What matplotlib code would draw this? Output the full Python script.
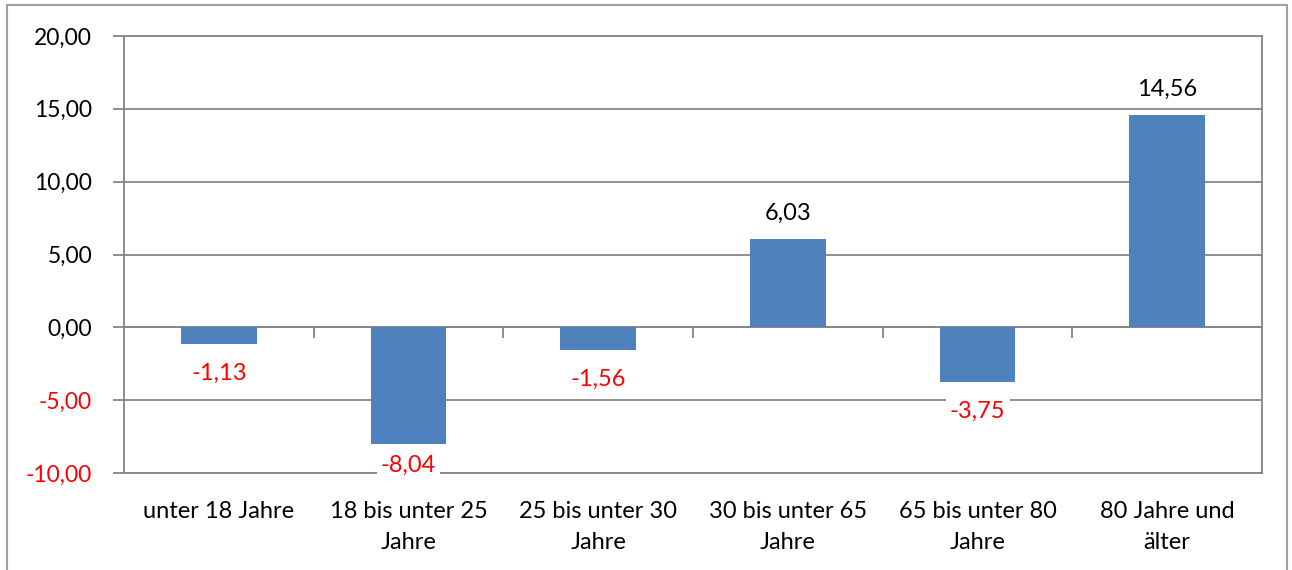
import numpy as np
import matplotlib
matplotlib.use("Agg")
from matplotlib import pyplot as plt
from matplotlib.patches import Rectangle

# age groups and change values
categories = ["unter 18 Jahre", "18 bis unter 25\nJahre", "25 bis unter 30\nJahre",
              "30 bis unter 65\nJahre", "65 bis unter 80\nJahre", "80 Jahre und\nälter"]
values = [-1.13, -8.04, -1.56, 6.03, -3.75, 14.56]
yticks = [20, 15, 10, 5, 0, -5, -10]

plt.rcParams['font.family'] = ['Lato', 'DejaVu Sans']

gridcol = "#868686"
barcol = "#4F81BD"
fs = 17

def fmt(v):
    return ("%.2f" % v).replace(".", ",")

fig = plt.figure(figsize=(12.92, 5.70), dpi=100)
ax = fig.add_axes([124/1292, 1 - 473/570, (1262-124)/1292, (473-36)/570])

x = np.arange(len(categories))
ax.bar(x, values, width=0.4, color=barcol, zorder=3)

ax.set_xlim(-0.5, len(categories) - 0.5)
ax.set_ylim(-10, 20)

#y axis: ticks outside, negative labels red
ax.set_yticks(yticks)
ax.set_yticklabels([fmt(t) for t in yticks], fontsize=16.5)
for lab, t in zip(ax.get_yticklabels(), yticks):
    lab.set_color("red" if t < 0 else "black")
ax.tick_params(axis="y", direction="out", length=8, width=1.3, color=gridcol, pad=15)
ax.grid(axis="y", color=gridcol, linewidth=1.3, zorder=0)

# category labels at the bottom, no tick marks there
ax.set_xticks(x)
ax.set_xticklabels(categories, fontsize=fs, linespacing=1.6)
ax.tick_params(axis="x", length=0, pad=20)

for s in ax.spines.values():
    s.set_color(gridcol)
    s.set_linewidth(1.3)

# horizontal axis through zero with boundary ticks
zax = ax.secondary_xaxis(0, transform=ax.transData)
zax.set_xticks(np.arange(len(categories) - 1) + 0.5)
zax.set_xticklabels([])
zax.tick_params(direction="out", length=8, width=1.3, color=gridcol)
zax.spines["bottom"].set_color(gridcol)
zax.spines["bottom"].set_linewidth(1.3)

# value labels
off = 2.0
for xi, v in zip(x, values):
    if v < 0:
        y = max(v - off, -9.5)
        col = "red"
    else:
        y = v + off - 0.2
        col = "black"
    ax.text(xi, y, fmt(v), ha="center", va="center", fontsize=fs, color=col, zorder=4,
            bbox=dict(facecolor="white", edgecolor="none", pad=3))

# chart frame
fig.patches.append(Rectangle((7/1292, -0.01), (1287-7)/1292, 1 - 5/570 + 0.01,
                             transform=fig.transFigure, fill=False,
                             edgecolor="#a0a0a0", linewidth=1.5))

fig.savefig("out.png", dpi=100)
